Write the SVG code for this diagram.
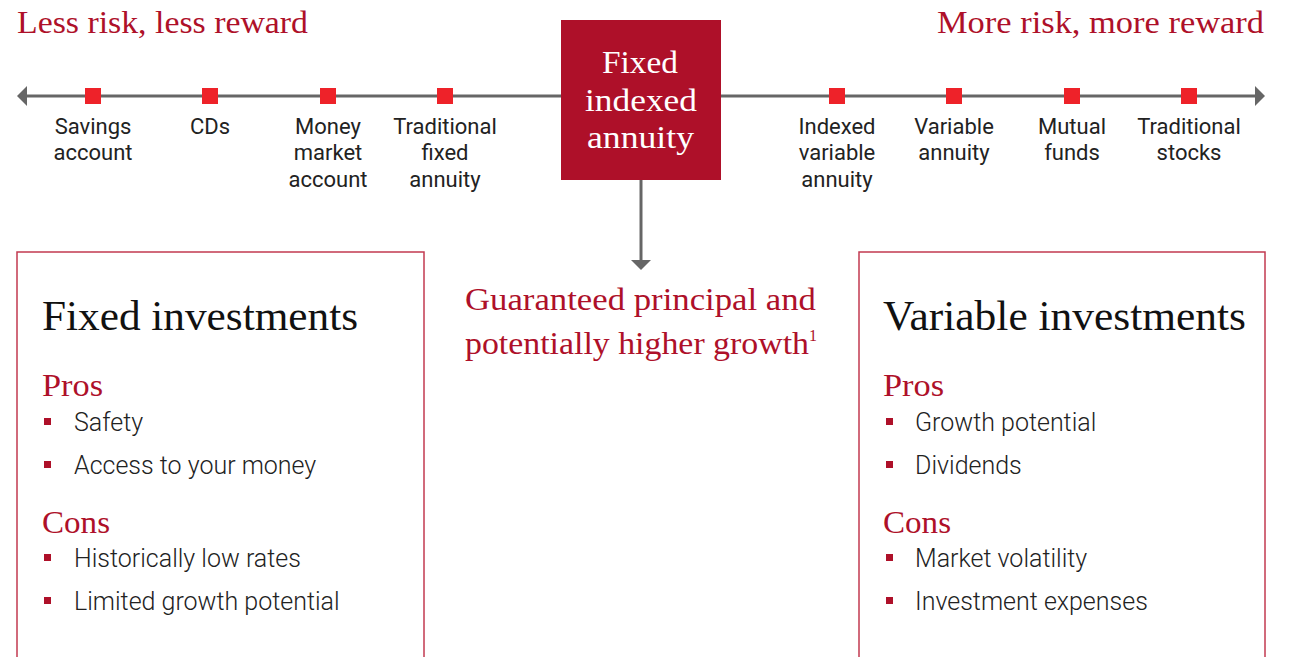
<svg xmlns="http://www.w3.org/2000/svg" width="1291" height="657" viewBox="0 0 1291 657">
<style>
.serif{font-family:"Liberation Serif","DejaVu Serif",serif}
.red{fill:#AE1029}
.lbl{font-family:Roboto,"Liberation Sans",sans-serif;font-size:22px;fill:#222;text-anchor:middle}
.blt{font-family:Roboto,"Liberation Sans",sans-serif;font-size:25px;fill:#222;font-weight:300}
.sq{fill:#EE2229}
.bsq{fill:#AE1029}
.box{fill:none;stroke:#C23A50;stroke-width:1.5}
.line{stroke:#666;stroke-width:3;fill:none}
</style>
<defs>
<marker id="ah" viewBox="0 0 10 20" refX="3" refY="10" markerWidth="10" markerHeight="20" orient="auto-start-reverse" markerUnits="userSpaceOnUse">
<path d="M0,0 L10,10 L0,20 Z" fill="#666"/>
</marker>
</defs>
<rect width="1291" height="657" fill="#fff"/>
<g id="connectors">
<line class="line" x1="24" y1="96" x2="1258" y2="96" marker-start="url(#ah)" marker-end="url(#ah)"/>
<line class="line" x1="641" y1="180" x2="641" y2="263" marker-end="url(#ah)"/>
</g>
<g id="titles">
<text class="serif red" x="17" y="33" font-size="32" textLength="291" lengthAdjust="spacingAndGlyphs">Less risk, less reward</text>
<text class="serif red" x="937" y="33" font-size="32" textLength="327" lengthAdjust="spacingAndGlyphs">More risk, more reward</text>
</g>
<g id="n-savings"><rect class="sq" x="85" y="88" width="16" height="16"/><text class="lbl" x="93" y="134">Savings</text><text class="lbl" x="93" y="160">account</text></g>
<g id="n-cds"><rect class="sq" x="202" y="88" width="16" height="16"/><text class="lbl" x="210" y="134">CDs</text></g>
<g id="n-money"><rect class="sq" x="320" y="88" width="16" height="16"/><text class="lbl" x="328" y="134">Money</text><text class="lbl" x="328" y="160">market</text><text class="lbl" x="328" y="187">account</text></g>
<g id="n-tfa"><rect class="sq" x="437" y="88" width="16" height="16"/><text class="lbl" x="445" y="134">Traditional</text><text class="lbl" x="445" y="160">fixed</text><text class="lbl" x="445" y="187">annuity</text></g>
<g id="n-fia"><rect x="561" y="20" width="160" height="160" fill="#AE1029"/>
<text class="serif" x="602" y="73" font-size="32" fill="#fff" textLength="76" lengthAdjust="spacingAndGlyphs">Fixed</text>
<text class="serif" x="585" y="111" font-size="32" fill="#fff" textLength="112" lengthAdjust="spacingAndGlyphs">indexed</text>
<text class="serif" x="587" y="148" font-size="32" fill="#fff" textLength="107" lengthAdjust="spacingAndGlyphs">annuity</text></g>
<g id="n-iva"><rect class="sq" x="829" y="88" width="16" height="16"/><text class="lbl" x="837" y="134">Indexed</text><text class="lbl" x="837" y="160">variable</text><text class="lbl" x="837" y="187">annuity</text></g>
<g id="n-va"><rect class="sq" x="946" y="88" width="16" height="16"/><text class="lbl" x="954" y="134">Variable</text><text class="lbl" x="954" y="160">annuity</text></g>
<g id="n-mf"><rect class="sq" x="1064" y="88" width="16" height="16"/><text class="lbl" x="1072" y="134">Mutual</text><text class="lbl" x="1072" y="160">funds</text></g>
<g id="n-ts"><rect class="sq" x="1181" y="88" width="16" height="16"/><text class="lbl" x="1189" y="134">Traditional</text><text class="lbl" x="1189" y="160">stocks</text></g>
<g id="n-guaranteed">
<text class="serif red" x="465" y="310" font-size="31" textLength="351" lengthAdjust="spacingAndGlyphs">Guaranteed principal and</text>
<text class="serif red" x="465" y="354" font-size="31"><tspan textLength="344" lengthAdjust="spacingAndGlyphs">potentially higher growth</tspan><tspan font-size="16" dy="-13">1</tspan></text>
</g>
<g id="n-fixed">
<rect class="box" x="17" y="252" width="407" height="420"/>
<text class="serif" x="42" y="330" font-size="42" fill="#111" textLength="316" lengthAdjust="spacingAndGlyphs">Fixed investments</text>
<text class="serif red" x="42" y="396" font-size="32" textLength="61" lengthAdjust="spacingAndGlyphs">Pros</text>
<rect class="bsq" x="44" y="418" width="7" height="7"/><text class="blt" x="74" y="431">Safety</text>
<rect class="bsq" x="44" y="461" width="7" height="7"/><text class="blt" x="74" y="474">Access to your money</text>
<text class="serif red" x="42" y="533" font-size="32" textLength="68" lengthAdjust="spacingAndGlyphs">Cons</text>
<rect class="bsq" x="44" y="554" width="7" height="7"/><text class="blt" x="74" y="567">Historically low rates</text>
<rect class="bsq" x="44" y="597" width="7" height="7"/><text class="blt" x="74" y="610">Limited growth potential</text>
</g>
<g id="n-variable">
<rect class="box" x="859" y="252" width="406" height="420"/>
<text class="serif" x="883" y="330" font-size="42" fill="#111" textLength="363" lengthAdjust="spacingAndGlyphs">Variable investments</text>
<text class="serif red" x="883" y="396" font-size="32" textLength="61" lengthAdjust="spacingAndGlyphs">Pros</text>
<rect class="bsq" x="886" y="418" width="7" height="7"/><text class="blt" x="915" y="431">Growth potential</text>
<rect class="bsq" x="886" y="461" width="7" height="7"/><text class="blt" x="915" y="474">Dividends</text>
<text class="serif red" x="883" y="533" font-size="32" textLength="68" lengthAdjust="spacingAndGlyphs">Cons</text>
<rect class="bsq" x="886" y="554" width="7" height="7"/><text class="blt" x="915" y="567">Market volatility</text>
<rect class="bsq" x="886" y="597" width="7" height="7"/><text class="blt" x="915" y="610">Investment expenses</text>
</g>
</svg>
